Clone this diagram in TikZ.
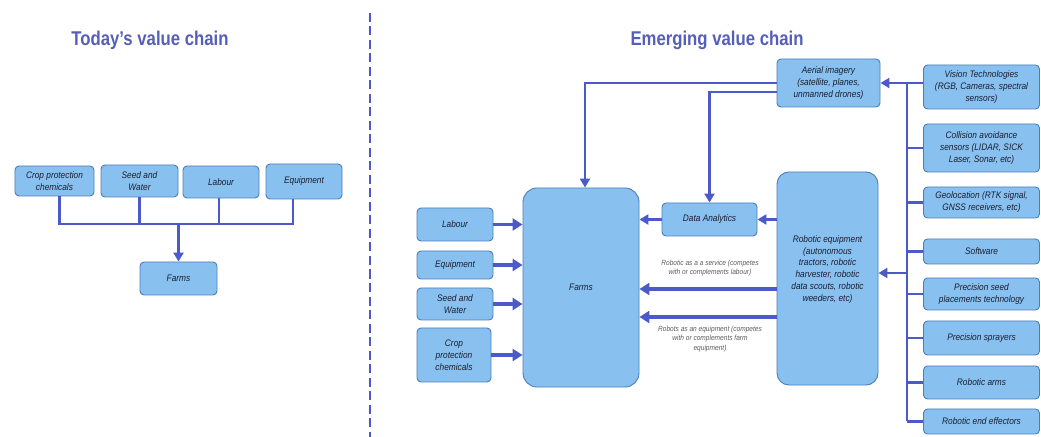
\documentclass[tikz,border=0pt]{standalone}
\usepackage{fontspec}
\setmainfont{Liberation Sans}
\newfontfamily\boxfont[FakeStretch=0.88]{Liberation Sans}
\newfontfamily\titlefont[FakeStretch=0.84]{Liberation Sans}
\usetikzlibrary{arrows.meta}

\definecolor{boxfill}{HTML}{88C1F0}
\definecolor{boxline}{HTML}{4D7DB8}
\definecolor{link}{HTML}{4B5AC8}
\definecolor{ink}{HTML}{1A1E30}
\definecolor{heading}{HTML}{555FB8}
\definecolor{note}{HTML}{5C5C5C}

\tikzset{
  box/.style={draw=boxline, line width=0.9bp, fill=boxfill, rounded corners=4bp,
    inner sep=1bp, align=center, text=ink,
    font=\boxfont\itshape\fontsize{9.5}{12}\selectfont},
  dims/.style 2 args={minimum width=#1, minimum height=#2},
  heading/.style={text=heading, font=\titlefont\bfseries\fontsize{20}{24}\selectfont},
  notetext/.style={text=note, align=center, font=\boxfont\itshape\fontsize{7.5}{9.5}\selectfont},
  wire/.style={draw=link, line width=2.6bp},
  feed/.style={wire, -{Triangle[length=9bp,width=10bp]}},
  bigfeed/.style={draw=link, line width=3.8bp, -{Triangle[length=10bp,width=12bp]}},
}

\begin{document}
\begin{tikzpicture}[x=1bp, y=-1bp]
\useasboundingbox (0,0) rectangle (1041,437);

% ---------- headings and divider ----------
\node[heading] (todayhead) at (150,40) {Today’s value chain};
\node[heading] (emerghead) at (717,40) {Emerging value chain};
\draw[link, line width=2.6bp, dash pattern=on 9bp off 4.5bp] (370,13) -- (370,437);

% ---------- today's value chain ----------
\node[box, dims={79bp}{30bp}] (cropL)   at (54.5,181)   {Crop protection\\chemicals};
\node[box, dims={77bp}{32bp}] (seedL)   at (139.5,181)  {Seed and\\Water};
\node[box, dims={76bp}{32bp}] (labourL) at (221,182)    {Labour};
\node[box, dims={76bp}{35bp}] (equipL)  at (304,181.5)  {Equipment};
\node[box, dims={77bp}{33bp}] (farmsL)  at (178.5,278.5) {Farms};

\coordinate (hub) at (178.5,224);
\draw[wire] ([xshift=5bp]cropL.south) |- (hub);
\draw[wire] (seedL.south) |- (hub);
\draw[wire] ([xshift=-2bp]labourL.south) |- (hub);
\draw[wire] ([xshift=-11bp]equipL.south) |- (hub);
\draw[feed] (hub) -- (hub |- farmsL.north);

% ---------- emerging value chain: centre ----------
\node[box, dims={116bp}{199bp}, rounded corners=14bp] (farmsR) at (581,287.5) {Farms};
\node[box, dims={95bp}{33bp}] (data) at (709.5,219.5) {Data Analytics};
\node[box, dims={101bp}{213bp}, rounded corners=12bp] (robot) at (827.5,278.5)
  {Robotic equipment\\(autonomous\\tractors, robotic\\harvester, robotic\\data scouts, robotic\\weeders, etc)\\[8bp]};
\node[box, dims={103bp}{48bp}] (aerial) at (828.5,83)
  {Aerial imagery\\(satellite, planes,\\unmanned drones)};

% ---------- inputs on the left ----------
\node[box, dims={76bp}{33bp}] (labourR) at (455,224.5) {Labour};
\node[box, dims={76bp}{28bp}] (equipR)  at (455,265)   {Equipment};
\node[box, dims={76bp}{32bp}] (seedR)   at (455,304)   {Seed and\\Water};
\node[box, dims={74bp}{54bp}] (cropR)   at (454,355)   {Crop\\protection\\chemicals};

\foreach \n in {labourR,equipR,seedR,cropR}
  \draw[bigfeed] (\n.east) -- (\n.east -| farmsR.west);

% ---------- technologies on the right ----------
\node[box, dims={116bp}{44bp}] (vision) at (981.5,87)    {Vision Technologies\\(RGB, Cameras, spectral\\sensors)};
\node[box, dims={116bp}{48bp}] (coll)   at (981.5,148)   {Collision avoidance\\sensors (LIDAR, SICK\\Laser, Sonar, etc)};
\node[box, dims={116bp}{31bp}] (geo)    at (981.5,202.5) {Geolocation (RTK signal,\\GNSS receivers, etc)};
\node[box, dims={116bp}{25bp}] (soft)   at (981.5,251.5) {Software};
\node[box, dims={116bp}{32bp}] (pseed)  at (981.5,294)   {Precision seed\\placements technology};
\node[box, dims={116bp}{34bp}] (spray)  at (981.5,338)   {Precision sprayers};
\node[box, dims={116bp}{33bp}] (arms)   at (981.5,382.5) {Robotic arms};
\node[box, dims={116bp}{25bp}] (effect) at (981.5,421.5) {Robotic end effectors};

% collecting bus
\coordinate (bustop) at (907,83);
\coordinate (robin)  at (907,273);
\draw[wire] (bustop) -- (effect.west -| bustop);
\foreach \n in {coll,geo,soft,pseed,spray,arms,effect}
  \draw[wire] (\n.west -| bustop) -- (\n.west);
\draw[feed] (vision.west |- aerial.east) -- (aerial.east);
\draw[feed] (robin) -- (robin -| robot.east);

% ---------- flows into the farm ----------
\draw[feed] (aerial.west) -| ([xshift=4bp]farmsR.north);
\draw[feed] ([yshift=-9bp]aerial.west) -| (data.north);
\draw[feed] (data.east -| robot.west) -- (data.east);
\draw[feed] (data.west) -- (data.west -| farmsR.east);
\draw[bigfeed] ([yshift=-10.5bp]robot.west) -- ([yshift=-10.5bp]robot.west -| farmsR.east);
\draw[bigfeed] ([yshift=-38.5bp]robot.west) -- ([yshift=-38.5bp]robot.west -| farmsR.east);

\node[notetext] (svcnote) at (710,268) {Robotic as a a service (competes\\with or complements labour)};
\node[notetext] (eqnote)  at (710,339) {Robots as an equipment (competes\\with or complements farm\\equipment)};
\end{tikzpicture}
\end{document}
